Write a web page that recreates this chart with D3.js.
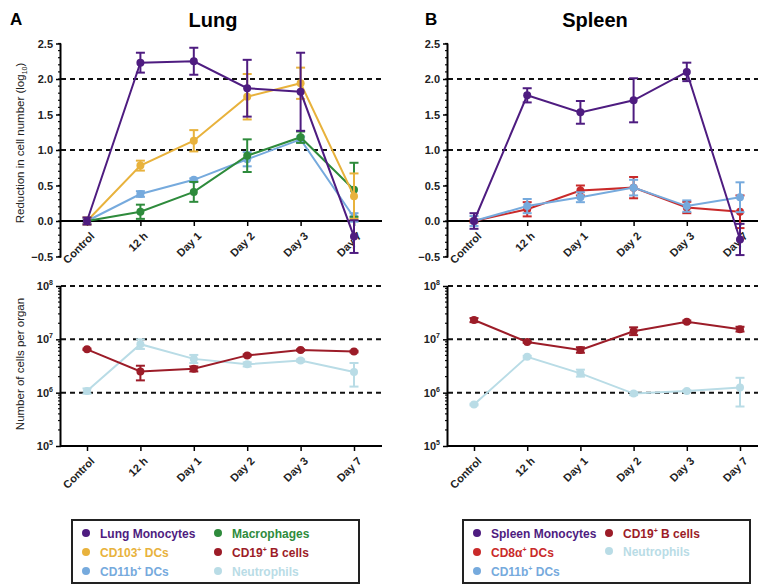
<!DOCTYPE html>
<html>
<head>
<meta charset="utf-8">
<script src="https://cdn.jsdelivr.net/npm/d3@7"></script>
<style>
  body { margin: 0; background: #fff; }
  svg text { font-family: "Liberation Sans", Arial, sans-serif; }
</style>
</head>
<body>
<div id="chart"></div>
<script>
// categories & tick values
const categories = ['Control', '12 h', 'Day 1', 'Day 2', 'Day 3', 'Day 7'];
const reductionTicks = [-0.5, 0, 0.5, 1, 1.5, 2, 2.5];
const reductionRefs = [1, 2];
const countTicks = [1e5, 1e6, 1e7, 1e8];
const countRefs = [1e6, 1e7, 1e8];

// Lung, reduction in cell number (log10), mean and +/- error
const lungMonocytes = [0, 2.23, 2.25, 1.87, 1.82, -0.22];
const lungMonocytesErr = [0.05, 0.14, 0.19, 0.40, 0.55, 0.23];
const lungCD103 = [0, 0.78, 1.13, 1.75, 1.94, 0.35];
const lungCD103Err = [0.05, 0.07, 0.15, 0.32, 0.22, 0.32];
const lungMacrophages = [0, 0.13, 0.41, 0.92, 1.18, 0.44];
const lungMacrophagesErr = [0, 0.10, 0.14, 0.23, 0.08, 0.38];
const lungCD11b = [0, 0.38, 0.58, 0.87, 1.15, 0.05];
const lungCD11bErr = [0.03, 0.04, 0.02, 0.10, 0.04, 0.06];

// Spleen, reduction in cell number (log10)
const spleenMonocytes = [0, 1.77, 1.53, 1.70, 2.10, -0.26];
const spleenMonocytesErr = [0.11, 0.10, 0.16, 0.31, 0.13, 0.22];
const spleenCD8a = [0, 0.165, 0.43, 0.47, 0.19, 0.13];
const spleenCD8aErr = [0.02, 0.10, 0.07, 0.15, 0.08, 0.23];
const spleenCD11b = [0, 0.21, 0.335, 0.47, 0.21, 0.335];
const spleenCD11bErr = [0.07, 0.10, 0.07, 0.11, 0.08, 0.21];

// number of cells per organ (mean, low, high)
const lungBcells = [6.5e6, 2.5e6, 2.8e6, 5.0e6, 6.3e6, 5.9e6];
const lungBcellsLo = [6.3e6, 1.7e6, 2.5e6, 4.8e6, 6.1e6, 5.7e6];
const lungBcellsHi = [6.7e6, 3.2e6, 3.1e6, 5.2e6, 6.5e6, 6.1e6];
const lungNeutro = [1.07e6, 8.1e6, 4.3e6, 3.4e6, 4.0e6, 2.45e6];
const lungNeutroLo = [0.96e6, 6.6e6, 3.6e6, 3.1e6, 3.8e6, 1.3e6];
const lungNeutroHi = [1.2e6, 1.0e7, 5.1e6, 3.7e6, 4.2e6, 3.6e6];
const spleenBcells = [2.3e7, 8.9e6, 6.3e6, 1.42e7, 2.14e7, 1.55e7];
const spleenBcellsLo = [2.1e7, 8.6e6, 5.6e6, 1.2e7, 2.05e7, 1.4e7];
const spleenBcellsHi = [2.5e7, 9.2e6, 7.1e6, 1.68e7, 2.25e7, 1.72e7];
const spleenNeutro = [6.0e5, 4.7e6, 2.3e6, 9.6e5, 1.07e6, 1.25e6];
const spleenNeutroLo = [5.8e5, 4.5e6, 2.0e6, 9.0e5, 1.03e6, 5.5e5];
const spleenNeutroHi = [6.2e5, 4.9e6, 2.7e6, 1.03e6, 1.11e6, 1.9e6];

const col = {
  purple: '#4e1c80', orange: '#e8b23c', green: '#2e8b3c', darkred: '#9c1c28',
  blue: '#76aadd', lightblue: '#b9dce6', red: '#c92a2a'
};

const W = 758, H = 585;
const svg = d3.select('#chart').append('svg')
  .attr('width', W).attr('height', H);

// helper: build series objects from the arrays
const sym = (mean, err) => mean.map((m, i) => ({ cat: categories[i], v: m, lo: m - err[i], hi: m + err[i] }));
const rng = (mean, lo, hi) => mean.map((m, i) => ({ cat: categories[i], v: m, lo: lo[i], hi: hi[i] }));

function drawPanel(cfg) {
  const g = svg.append('g');
  const x = d3.scalePoint().domain(categories).range(cfg.xRange);
  const y = cfg.y;
  const y0 = cfg.baseY;

  // dashed reference lines
  g.selectAll('.ref').data(cfg.refs).join('line')
    .attr('x1', cfg.axisX).attr('x2', cfg.xEnd)
    .attr('y1', d => y(d)).attr('y2', d => y(d))
    .attr('stroke', '#111').attr('stroke-width', 2)
    .attr('stroke-dasharray', '5,4');

  // minor y ticks
  g.selectAll('.minor').data(cfg.minor).join('line')
    .attr('x1', cfg.axisX - 3).attr('x2', cfg.axisX)
    .attr('y1', d => y(d)).attr('y2', d => y(d))
    .attr('stroke', '#111').attr('stroke-width', 1.2);

  // y axis
  const yAxis = d3.axisLeft(y).tickValues(cfg.ticks).tickSize(5).tickPadding(3)
    .tickFormat(cfg.tickFormat || d3.format('.1f'));
  const ya = g.append('g').attr('transform', `translate(${cfg.axisX},0)`).call(yAxis);
  ya.select('.domain').attr('stroke-width', 2).attr('d', `M-0.5,${y.range()[0] + 1}V${y.range()[1]}`);
  ya.selectAll('.tick line').attr('stroke-width', 1.5);
  ya.selectAll('text').attr('font-size', 11).attr('font-weight', 'bold').attr('fill', '#222');
  if (cfg.log) {
    ya.selectAll('text').each(function(d) {
      const t = d3.select(this).text('');
      t.append('tspan').text('10');
      t.append('tspan').attr('dy', -5).attr('font-size', 7).text(Math.round(Math.log10(d)));
    });
  }

  // x axis
  const xAxis = d3.axisBottom(x).tickSize(5).tickSizeOuter(0);
  const xa = g.append('g').attr('transform', `translate(0,${y0})`).call(xAxis);
  xa.select('.domain').attr('stroke-width', 2).attr('d', `M${cfg.axisX - 1},0H${cfg.xEnd}`);
  xa.selectAll('.tick line').attr('stroke-width', 1.5);
  xa.selectAll('text')
    .attr('font-size', 11).attr('font-weight', 'bold').attr('fill', '#222')
    .attr('text-anchor', 'end').attr('x', 0).attr('y', 0).attr('dy', '0.35em')
    .attr('transform', 'translate(5,13) rotate(-45)');

  // series
  const line = d3.line().x(d => x(d.cat)).y(d => y(d.v));
  cfg.series.forEach(s => {
    const sg = g.append('g');
    sg.append('path').datum(s.data).attr('d', line)
      .attr('fill', 'none').attr('stroke', s.color).attr('stroke-width', 2);
    const eb = sg.selectAll('.eb').data(s.data.filter(d => d.hi - d.lo > 0)).join('g')
      .attr('stroke', s.color).attr('stroke-width', 2);
    eb.append('line').attr('x1', d => x(d.cat)).attr('x2', d => x(d.cat))
      .attr('y1', d => y(d.lo)).attr('y2', d => y(d.hi));
    eb.append('line').attr('x1', d => x(d.cat) - 4.5).attr('x2', d => x(d.cat) + 4.5)
      .attr('y1', d => y(d.lo)).attr('y2', d => y(d.lo));
    eb.append('line').attr('x1', d => x(d.cat) - 4.5).attr('x2', d => x(d.cat) + 4.5)
      .attr('y1', d => y(d.hi)).attr('y2', d => y(d.hi));
    sg.selectAll('circle').data(s.data).join('circle')
      .attr('cx', d => x(d.cat)).attr('cy', d => y(d.v)).attr('r', 4)
      .attr('fill', s.color);
  });
}

const yTopL = d3.scaleLinear().domain([-0.5, 2.5]).range([256.5, 43.5]);
const yBot = d3.scaleLog().domain([1e5, 1e8]).range([446, 286]);
const linMinor = d3.range(-5, 26).map(d => d / 10);
const logMinor = [];
[1e5, 1e6, 1e7].forEach(b => d3.range(2, 10).forEach(k => logMinor.push(b * k)));

// Lung top
drawPanel({
  xRange: [87, 354], axisX: 61, xEnd: 382, y: yTopL, baseY: yTopL(0),
  ticks: reductionTicks, refs: reductionRefs, minor: linMinor,
  series: [
    { color: col.blue, data: sym(lungCD11b, lungCD11bErr) },
    { color: col.green, data: sym(lungMacrophages, lungMacrophagesErr) },
    { color: col.orange, data: sym(lungCD103, lungCD103Err) },
    { color: col.purple, data: sym(lungMonocytes, lungMonocytesErr) }
  ]
});
// Spleen top
drawPanel({
  xRange: [474, 740], axisX: 448, xEnd: 758, y: yTopL, baseY: yTopL(0),
  ticks: reductionTicks, refs: reductionRefs, minor: linMinor,
  series: [
    { color: col.red, data: sym(spleenCD8a, spleenCD8aErr) },
    { color: col.blue, data: sym(spleenCD11b, spleenCD11bErr) },
    { color: col.purple, data: sym(spleenMonocytes, spleenMonocytesErr) }
  ]
});
// Lung bottom
drawPanel({
  xRange: [87, 354], axisX: 61, xEnd: 382, y: yBot, baseY: 446, log: true,
  ticks: countTicks, refs: countRefs, minor: logMinor,
  series: [
    { color: col.lightblue, data: rng(lungNeutro, lungNeutroLo, lungNeutroHi) },
    { color: col.darkred, data: rng(lungBcells, lungBcellsLo, lungBcellsHi) }
  ]
});
// Spleen bottom
drawPanel({
  xRange: [474, 740], axisX: 448, xEnd: 758, y: yBot, baseY: 446, log: true,
  ticks: countTicks, refs: countRefs, minor: logMinor,
  series: [
    { color: col.lightblue, data: rng(spleenNeutro, spleenNeutroLo, spleenNeutroHi) },
    { color: col.darkred, data: rng(spleenBcells, spleenBcellsLo, spleenBcellsHi) }
  ]
});

// titles and panel letters
svg.append('text').attr('x', 10).attr('y', 25).attr('font-size', 17).attr('font-weight', 'bold').text('A');
svg.append('text').attr('x', 213).attr('y', 27).attr('text-anchor', 'middle')
  .attr('font-size', 20).attr('font-weight', 'bold').text('Lung');
svg.append('text').attr('x', 425).attr('y', 25).attr('font-size', 17).attr('font-weight', 'bold').text('B');
svg.append('text').attr('x', 595).attr('y', 27).attr('text-anchor', 'middle')
  .attr('font-size', 20).attr('font-weight', 'bold').text('Spleen');

// y axis titles
const yt1 = svg.append('text').attr('transform', 'translate(24,143) rotate(-90)')
  .attr('text-anchor', 'middle').attr('font-size', 11.5).attr('fill', '#222');
yt1.append('tspan').text('Reduction in cell number (log');
yt1.append('tspan').attr('font-size', 7).attr('dy', 3).text('10');
yt1.append('tspan').attr('dy', -3).text(')');
svg.append('text').attr('transform', 'translate(24,364) rotate(-90)')
  .attr('text-anchor', 'middle').attr('font-size', 11.5).attr('fill', '#222')
  .text('Number of cells per organ');

// legends
function legend(x0, items) {
  const g = svg.append('g');
  g.append('rect').attr('x', x0).attr('y', 520).attr('width', 287).attr('height', 63)
    .attr('fill', '#fff').attr('stroke', '#222').attr('stroke-width', 2);
  items.forEach(it => {
    const ix = x0 + 14 + it.c * 132;
    const iy = 534 + it.r * 19;
    g.append('circle').attr('cx', ix).attr('cy', iy - 1).attr('r', 4).attr('fill', it.color);
    const t = g.append('text').attr('x', ix + 14).attr('y', iy + 4)
      .attr('font-size', 12).attr('font-weight', 'bold').attr('fill', it.color);
    t.append('tspan').text(it.name);
    if (it.sup) {
      t.append('tspan').attr('font-size', 7).attr('dy', -5).text('+');
      t.append('tspan').attr('dy', 5).text(' ' + it.rest);
    }
  });
}
legend(72, [
  { c: 0, r: 0, color: col.purple, name: 'Lung Monocytes' },
  { c: 0, r: 1, color: col.orange, name: 'CD103', sup: true, rest: 'DCs' },
  { c: 0, r: 2, color: col.blue, name: 'CD11b', sup: true, rest: 'DCs' },
  { c: 1, r: 0, color: col.green, name: 'Macrophages' },
  { c: 1, r: 1, color: col.darkred, name: 'CD19', sup: true, rest: 'B cells' },
  { c: 1, r: 2, color: col.lightblue, name: 'Neutrophils' }
]);
legend(463, [
  { c: 0, r: 0, color: col.purple, name: 'Spleen Monocytes' },
  { c: 0, r: 1, color: col.red, name: 'CD8α', sup: true, rest: 'DCs' },
  { c: 0, r: 2, color: col.blue, name: 'CD11b', sup: true, rest: 'DCs' },
  { c: 1, r: 0, color: col.darkred, name: 'CD19', sup: true, rest: 'B cells' },
  { c: 1, r: 0.95, color: col.lightblue, name: 'Neutrophils' }
]);
</script>
</body>
</html>
